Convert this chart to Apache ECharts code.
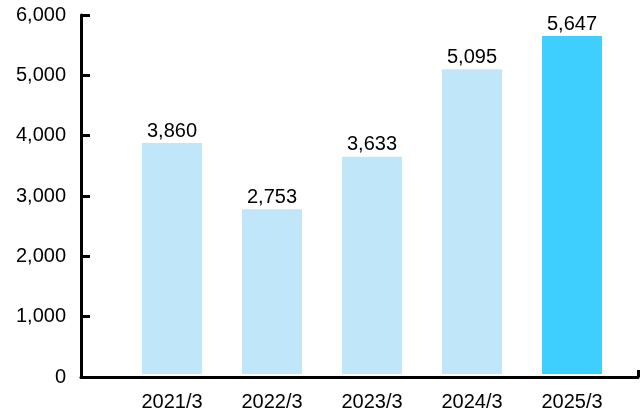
<!DOCTYPE html>
<html>
<head>
<meta charset="utf-8">
<script src="https://cdn.jsdelivr.net/npm/echarts@6/dist/echarts.min.js"></script>
<style>html,body{margin:0;padding:0;background:#fff}#c{width:640px;height:412px}</style>
</head>
<body>
<div id="c"></div>
<script>
const categories = ['2021/3', '2022/3', '2023/3', '2024/3', '2025/3'];
const values = [3860, 2753, 3633, 5095, 5647];
const highlightIndex = 4;
const yTicks = [0, 1000, 2000, 3000, 4000, 5000, 6000];

const FONT = '"Liberation Sans", Arial, Helvetica, sans-serif';
const chart = echarts.init(document.getElementById('c'), null, {renderer: 'canvas'});
const fmt = v => Number(v).toLocaleString('en-US');

chart.setOption({
  animation: false,
  textStyle: {fontFamily: FONT},
  grid: [
    {left: 81, right: 2, top: 15, bottom: 35},
    {left: 122, right: 18, top: 15, bottom: 35}
  ],
  xAxis: [
    {
      gridIndex: 0, type: 'category', data: [''], boundaryGap: true,
      axisLine: {show: true, lineStyle: {color: '#000', width: 3}},
      axisTick: {show: true, inside: true, length: 7, lineStyle: {color: '#000', width: 3}},
      axisLabel: {show: false}, splitLine: {show: false}
    },
    {
      gridIndex: 1, type: 'category', data: categories,
      axisLine: {show: false}, axisTick: {show: false},
      axisLabel: {color: '#000', fontSize: 20, fontFamily: FONT, margin: 18}
    }
  ],
  yAxis: [
    {
      gridIndex: 0, type: 'value', min: yTicks[0], max: yTicks[yTicks.length - 1], interval: 1000,
      axisLine: {show: true, lineStyle: {color: '#000', width: 3}},
      axisTick: {show: true, inside: true, length: 9, lineStyle: {color: '#000', width: 3}},
      axisLabel: {color: '#000', fontSize: 20, fontFamily: FONT, margin: 15, padding: [4, 0, 0, 0], formatter: fmt},
      splitLine: {show: false}
    },
    {
      gridIndex: 1, type: 'value', min: yTicks[0], max: yTicks[yTicks.length - 1], interval: 1000,
      show: false
    }
  ],
  series: [{
    type: 'bar', xAxisIndex: 1, yAxisIndex: 1,
    barWidth: 60,
    data: values.map((v, i) => ({
      value: v,
      itemStyle: {color: i === highlightIndex ? '#3ecfff' : '#c0e6f9'}
    })),
    label: {
      show: true, position: 'top', distance: 2,
      color: '#000', fontSize: 20, fontFamily: FONT,
      formatter: p => fmt(p.value)
    }
  }]
});
</script>
</body>
</html>
